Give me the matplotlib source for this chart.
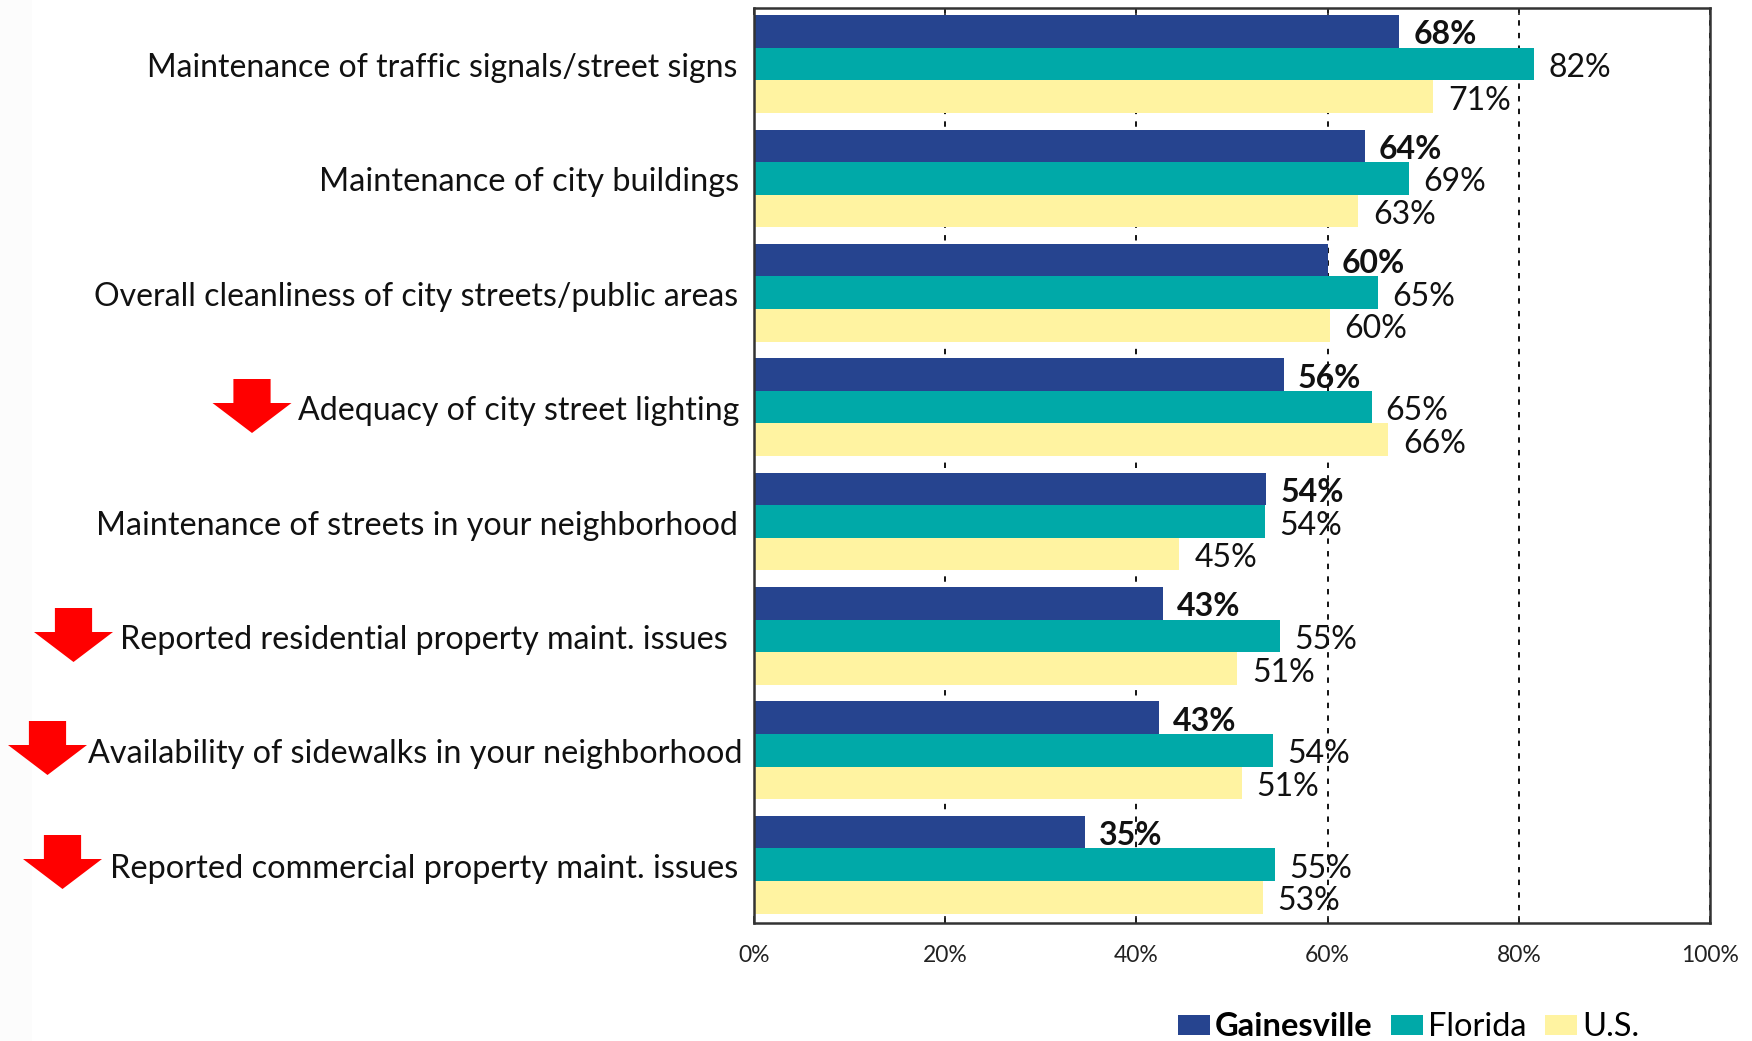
import numpy as np
import matplotlib
matplotlib.use('Agg')
import matplotlib.pyplot as plt
from matplotlib.patches import Polygon, Rectangle

# datos
categorias = ['Maintenance of traffic signals/street signs',
              'Maintenance of city buildings',
              'Overall cleanliness of city streets/public areas',
              'Adequacy of city street lighting',
              'Maintenance of streets in your neighborhood',
              'Reported residential property maint. issues',
              'Availability of sidewalks in your neighborhood',
              'Reported commercial property maint. issues']
gainesville = [67.5, 63.9, 60.0, 55.4, 53.6, 42.8, 42.4, 34.6]
florida = [81.6, 68.5, 65.3, 64.6, 53.5, 55.0, 54.3, 54.5]
us = [71.0, 63.2, 60.2, 66.3, 44.5, 50.5, 51.0, 53.2]
etiq_gainesville = [68, 64, 60, 56, 54, 43, 43, 35]
etiq_florida = [82, 69, 65, 65, 54, 55, 54, 55]
etiq_us = [71, 63, 60, 66, 45, 51, 51, 53]
ticks_x = [0, 20, 40, 60, 80, 100]

AZUL = '#26448f'
VERDE = '#00a9a8'
AMARILLO = '#fff3a1'
W, H = 1752, 1041
plt.rcParams['font.family'] = ['Lato', 'DejaVu Sans']

fig = plt.figure(figsize=(W / 100, H / 100), dpi=100)
ax = fig.add_axes([754 / W, 1 - 923 / H, 956 / W, 915 / H])

n = len(categorias)
y = np.arange(n)
alto = 0.285
series = [(gainesville, etiq_gainesville, AZUL, -alto, 'bold', 'Gainesville', 14),
          (florida, etiq_florida, VERDE, 0, 'normal', 'Florida', 14),
          (us, etiq_us, AMARILLO, alto, 'normal', 'U.S.', 15)]

for valores, etiquetas, color, dy, peso, nombre, sep in series:
    ax.barh(y + dy, valores, height=alto, color=color, zorder=2, label=nombre)
    for i in range(n):
        ax.annotate(f'{etiquetas[i]}%', xy=(valores[i], y[i] + dy), xytext=(sep, -1),
                    textcoords='offset pixels', va='center_baseline', ha='left',
                    fontsize=23, fontweight=peso, color='#111111', zorder=4)

ax.set_xlim(0, 100)
ax.set_ylim(n - 0.49, -0.49)
ax.set_xticks(ticks_x)
ax.set_xticklabels([f'{t}%' for t in ticks_x], fontsize=16.5, color='#222222')
ax.set_yticks([])
ax.tick_params(axis='x', direction='in', top=True, length=5, width=1.2, pad=16, color='#222222')
ax.grid(axis='x', color='black', linestyle=(0, (3, 4)), linewidth=1.3, zorder=1)
ax.set_axisbelow(True)
for s in ax.spines.values():
    s.set_color('#333333')
    s.set_linewidth(1.8)

# etiquetas de categoria, cada una con su propio margen y tamano
margen = [17, 14.5, 15.5, 14.5, 16, 26, 12, 15.5]
tamano = [23.0, 23.4, 23.0, 23.1, 23.2, 23.25, 23.3, 23.4]
for i in range(n):
    ax.annotate(categorias[i], xy=(0, y[i]), xytext=(-margen[i], -1), textcoords='offset pixels',
                ha='right', va='center_baseline', fontsize=tamano[i], color='#111111',
                annotation_clip=False)

# flechas rojas (en pixeles de la figura)
flechas = [(252, 379), (73.5, 608), (47.5, 721), (62.5, 835)]
for cx, top in flechas:
    puntos = [(cx - 18.6, top), (cx + 18.6, top), (cx + 18.6, top + 24), (cx + 39.5, top + 24),
              (cx, top + 54), (cx - 39.5, top + 24), (cx - 18.6, top + 24)]
    puntos = [(px / W, 1 - py / H) for px, py in puntos]
    fig.add_artist(Polygon(puntos, closed=True, transform=fig.transFigure, color='#ff0000', lw=0))

# franja casi blanca a la izquierda
fig.add_artist(Rectangle((0, 0), 32 / W, 1, transform=fig.transFigure, color='#fcfcfc', lw=0, zorder=-1))

leg = fig.legend(loc='center left', bbox_to_anchor=(1177.5 / W, 1 - 1027.5 / H), ncol=3, frameon=False,
                 fontsize=23.5, handlelength=1.0, handleheight=0.6, handletextpad=0.14,
                 columnspacing=0.56, borderpad=0, borderaxespad=0)
leg.get_texts()[0].set_fontweight('bold')

fig.savefig('out.png', dpi=100)
